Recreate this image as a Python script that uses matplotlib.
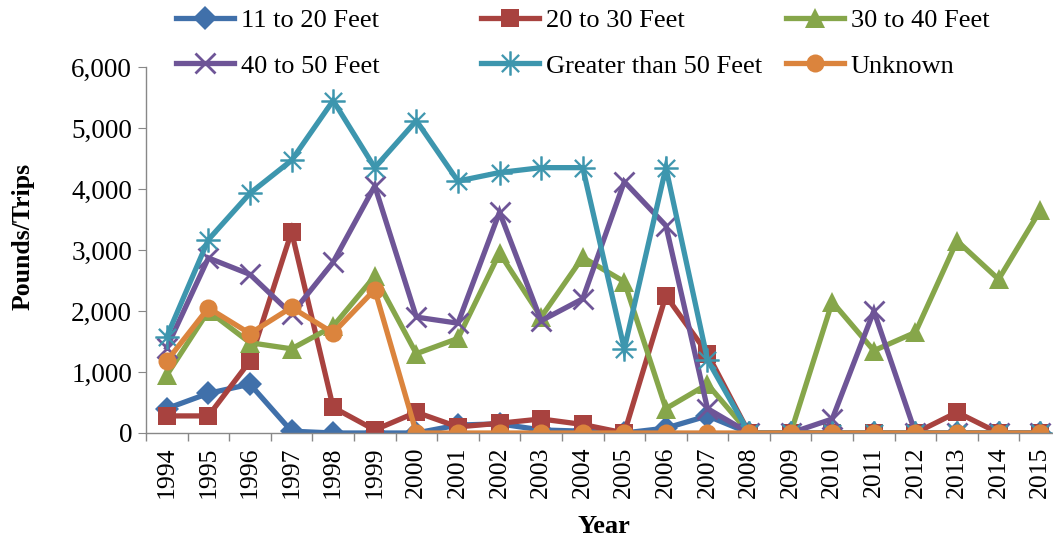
import matplotlib
matplotlib.use("Agg")
import matplotlib.pyplot as plt
from matplotlib.ticker import FuncFormatter, FixedLocator

plt.rcParams['font.family'] = ['Liberation Serif', 'DejaVu Serif']

years = [str(y) for y in range(1994, 2016)]
ft_11_20 = [400, 650, 800, 30, 0, 0, 0, 130, 150, 50, 30, 0, 80, 280, 0, 0, 0, 0, 0, 0, 0, 0]
ft_20_30 = [280, 280, 1180, 3300, 420, 50, 340, 100, 160, 230, 140, 0, 2250, 1300, 0, 0, 0, 0, 0, 340, 0, 0]
ft_30_40 = [950, 2000, 1480, 1380, 1750, 2570, 1300, 1550, 2950, 1900, 2880, 2480, 400, 800, 0, 0, 2150, 1350, 1650, 3150, 2520, 3650]
ft_40_50 = [1400, 2870, 2600, 1950, 2800, 4050, 1900, 1800, 3620, 1840, 2200, 4120, 3400, 400, 0, 0, 230, 2000, 0, 0, 0, 0]
ft_gt_50 = [1580, 3170, 3930, 4470, 5450, 4350, 5120, 4130, 4270, 4350, 4350, 1380, 4350, 1200, 0, 0, 0, 0, 0, 0, 0, 0]
unknown = [1180, 2050, 1630, 2060, 1640, 2350, 0, 0, 0, 0, 0, 0, 0, 0, 0, 0, 0, 0, 0, 0, 0, 0]

series = [
    ("11 to 20 Feet", ft_11_20, "#4070AA", "D", 12),
    ("20 to 30 Feet", ft_20_30, "#A8423F", "s", 13),
    ("30 to 40 Feet", ft_30_40, "#86A64A", "^", 14),
    ("40 to 50 Feet", ft_40_50, "#6E5597", "x", 15),
    ("Greater than 50 Feet", ft_gt_50, "#3D96AE", "$\u2733$", 17),
    ("Unknown", unknown, "#DB843D", "o", 13),
]

fig = plt.figure(figsize=(10.53, 5.40), dpi=100)
ax = fig.add_axes([146/1053, 107/540, 915/1053, 366/540])

x = list(range(len(years)))
handles = []
for name, vals, col, mk, ms in series:
    kw = dict(color=col, lw=3.8, marker=mk, markersize=ms, label=name, solid_joinstyle='miter')
    if mk == "x":
        kw.update(markeredgewidth=2.0)
    elif mk == "$\u2733$":
        kw.update(markeredgewidth=0.5)
    else:
        kw.update(markeredgewidth=0)
    h, = ax.plot(x, vals, **kw)
    handles.append(h)

ax.set_xlim(-0.5, len(years) - 0.5)
ax.set_ylim(0, 6000)
ax.set_yticks(range(0, 6001, 1000))
ax.yaxis.set_major_formatter(FuncFormatter(lambda v, p: f"{int(v):,}"))
ax.set_xticks(x)
ax.set_xticklabels(years, rotation=90, fontsize=18.5)
ax.tick_params(axis='x', which='major', length=0, pad=10)
ax.xaxis.set_minor_locator(FixedLocator([i - 0.5 for i in range(len(years) + 1)]))
ax.tick_params(axis='x', which='minor', length=6, width=1, color='#888888', direction='out')
ax.tick_params(axis='y', labelsize=19.5, length=6, color='#888888', direction='out', pad=4)
for s in ['top', 'right']:
    ax.spines[s].set_visible(False)
for s in ['left', 'bottom']:
    ax.spines[s].set_color('#888888')
    ax.spines[s].set_linewidth(1)

ax.set_ylabel("Pounds/Trips", fontsize=18.5, fontweight='bold')
ax.yaxis.set_label_coords(-0.1213, 0.536)
ax.set_xlabel("Year", fontsize=19, fontweight='bold')
ax.xaxis.set_label_coords(0.5, -0.224)

col_x = [176/1053, 481/1053, 786/1053]
for c in range(3):
    idx = [c, c + 3]
    fig.legend([handles[i] for i in idx], [series[i][0] for i in idx],
               loc='upper left', bbox_to_anchor=(col_x[c], 1.0 - 9/540), ncol=1, frameon=False,
               fontsize=19, handlelength=2.2, handletextpad=0.25,
               labelspacing=0.82, borderaxespad=0.0, borderpad=0.0)

fig.savefig("out.png", dpi=100)
